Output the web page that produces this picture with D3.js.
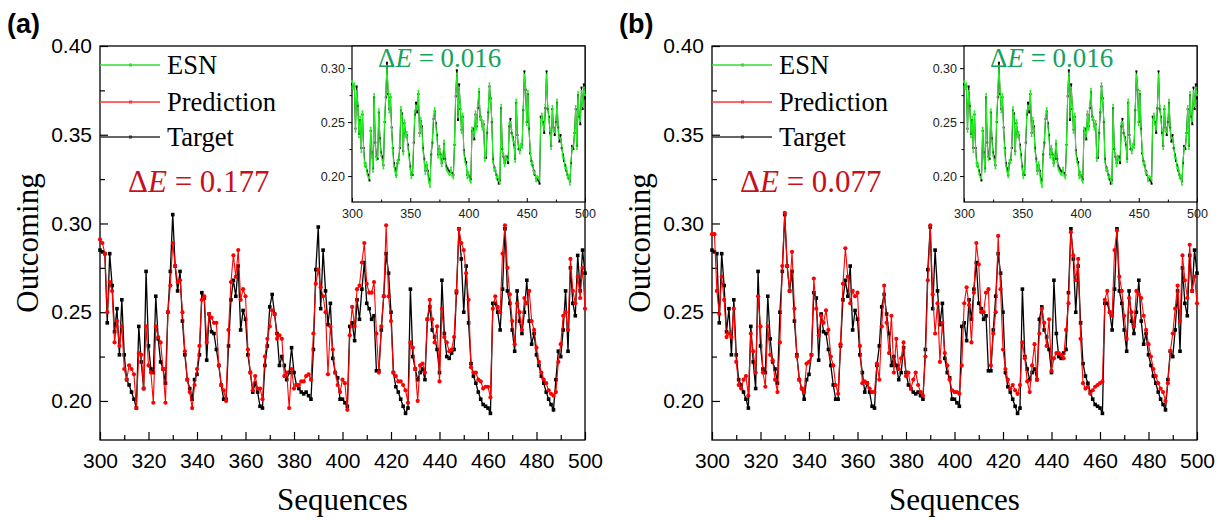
<!DOCTYPE html>
<html>
<head>
<meta charset="utf-8">
<script src="https://cdn.jsdelivr.net/npm/d3@7"></script>
<style>
  body { margin: 0; background: #fff; }
  svg { display: block; }
</style>
</head>
<body>
<div id="chart"></div>
<script>
// sequence index 300..500
const seqStart = 300;

const target = [
  .285,.284,.283,.244,.283,.265,.239,.252,.226,.257,
  .226,.212,.209,.205,.201,.196,.242,.222,.207,.273,
  .231,.218,.216,.259,.235,.222,.218,.210,.250,.273,
  .305,.276,.262,.273,.245,.226,.212,.207,.201,.212,
  .215,.226,.261,.258,.223,.249,.239,.238,.229,.220,
  .209,.201,.201,.231,.257,.268,.259,.276,.240,.251,
  .246,.226,.216,.205,.210,.205,.197,.196,.220,.231,
  .253,.260,.249,.238,.220,.225,.220,.212,.216,.230,
  .216,.209,.207,.205,.204,.205,.203,.201,.229,.274,
  .298,.252,.285,.262,.243,.255,.224,.216,.213,.201,
  .201,.199,.197,.242,.244,.234,.257,.246,.263,.278,
  .255,.252,.246,.248,.217,.217,.240,.259,.283,.272,
  .250,.216,.208,.205,.201,.197,.193,.196,.263,.225,
  .218,.212,.216,.218,.212,.246,.253,.240,.236,.229,
  .216,.268,.238,.225,.224,.227,.229,.261,.297,.280,
  .250,.276,.244,.221,.214,.210,.205,.201,.198,.197,
  .196,.193,.255,.255,.250,.240,.263,.297,.262,.255,
  .240,.228,.262,.245,.238,.250,.268,.245,.232,.238,
  .226,.220,.214,.210,.205,.201,.198,.195,.212,.228,
  .225,.240,.262,.228,.275,.255,.248,.282,.262,.285,
  .272
];

const predictionA = [
  .291,.289,.283,.250,.267,.262,.233,.245,.231,.242,
  .218,.212,.220,.218,.215,.196,.227,.226,.207,.242,
  .220,.216,.199,.242,.236,.233,.218,.199,.250,.265,
  .289,.276,.267,.268,.250,.228,.212,.205,.196,.209,
  .218,.231,.257,.259,.233,.249,.247,.244,.244,.220,
  .209,.206,.200,.240,.267,.282,.270,.285,.257,.263,
  .259,.229,.216,.206,.214,.207,.207,.201,.225,.235,
  .242,.251,.249,.235,.237,.235,.214,.216,.196,.218,
  .207,.209,.209,.211,.211,.214,.215,.212,.238,.266,
  .274,.264,.259,.250,.215,.242,.229,.216,.209,.205,
  .212,.210,.195,.237,.253,.242,.263,.265,.278,.289,
  .266,.261,.261,.267,.238,.216,.242,.259,.299,.259,
  .245,.216,.214,.211,.211,.209,.206,.199,.233,.230,
  .218,.200,.220,.221,.216,.246,.257,.246,.233,.242,
  .211,.252,.236,.233,.228,.229,.236,.262,.297,.289,
  .285,.272,.257,.219,.216,.216,.212,.211,.207,.208,
  .208,.202,.252,.259,.253,.250,.283,.299,.275,.260,
  .245,.232,.255,.250,.240,.258,.255,.262,.245,.240,
  .230,.222,.216,.212,.210,.206,.204,.203,.205,.222,
  .232,.248,.250,.240,.280,.262,.255,.270,.258,.275,
  .252
];

const predictionB = [
  .294,.294,.262,.249,.270,.257,.236,.238,.236,.252,
  .222,.209,.207,.212,.214,.203,.238,.228,.216,.259,
  .242,.216,.208,.242,.226,.223,.212,.205,.233,.276,
  .306,.276,.262,.284,.252,.225,.212,.207,.205,.221,
  .222,.226,.269,.252,.237,.248,.244,.251,.240,.225,
  .220,.209,.204,.232,.266,.286,.270,.255,.262,.259,
  .261,.231,.210,.211,.210,.207,.205,.205,.221,.212,
  .242,.265,.244,.227,.248,.216,.235,.218,.224,.233,
  .214,.216,.207,.212,.216,.209,.205,.203,.225,.268,
  .299,.260,.238,.255,.222,.244,.227,.220,.212,.206,
  .205,.205,.204,.220,.255,.264,.254,.233,.261,.289,
  .277,.250,.250,.261,.263,.220,.238,.250,.293,.263,
  .229,.218,.212,.207,.209,.206,.204,.209,.233,.224,
  .211,.205,.220,.232,.212,.238,.252,.244,.231,.246,
  .217,.224,.227,.227,.226,.224,.240,.255,.295,.282,
  .268,.280,.235,.210,.207,.208,.204,.206,.208,.209,
  .210,.211,.257,.262,.250,.248,.285,.296,.270,.262,
  .248,.235,.258,.250,.242,.262,.260,.258,.248,.240,
  .232,.225,.218,.214,.210,.207,.205,.200,.210,.228,
  .238,.252,.265,.245,.282,.268,.258,.288,.262,.270,
  .255
];

const esn = [
  .288,.281,.286,.241,.279,.268,.236,.255,.222,.260,
  .223,.209,.212,.202,.199,.198,.245,.219,.204,.276,
  .228,.215,.219,.262,.232,.219,.215,.207,.253,.276,
  .302,.279,.259,.276,.242,.223,.209,.204,.199,.215,
  .212,.229,.264,.255,.220,.252,.236,.241,.226,.217,
  .206,.198,.204,.234,.260,.265,.262,.279,.237,.254,
  .243,.223,.213,.202,.213,.202,.194,.190,.223,.234,
  .256,.263,.246,.235,.217,.228,.217,.209,.219,.233,
  .213,.206,.204,.202,.201,.208,.200,.198,.232,.277,
  .295,.255,.282,.265,.240,.258,.221,.213,.210,.198,
  .204,.196,.194,.245,.241,.237,.260,.243,.266,.281,
  .252,.255,.243,.251,.214,.220,.243,.262,.286,.269,
  .253,.213,.205,.208,.198,.200,.196,.193,.266,.222,
  .221,.209,.219,.215,.215,.249,.250,.243,.233,.232,
  .213,.271,.235,.228,.221,.230,.226,.264,.294,.283,
  .247,.279,.241,.224,.211,.213,.202,.204,.195,.200,
  .199,.196,.252,.258,.247,.243,.266,.294,.265,.252,
  .243,.225,.265,.242,.241,.247,.271,.242,.235,.235,
  .229,.217,.217,.207,.208,.198,.201,.192,.215,.225,
  .228,.237,.265,.225,.278,.252,.251,.279,.265,.282,
  .275
];

const mainYTicks = [0.20, 0.25, 0.30, 0.35, 0.40];
const mainYMinor = [0.225, 0.275, 0.325, 0.375];
const mainXTicks = [300, 320, 340, 360, 380, 400, 420, 440, 460, 480, 500];
const mainXMinor = [310, 330, 350, 370, 390, 410, 430, 450, 470, 490];
const insetYTicks = [0.20, 0.25, 0.30];
const insetYMinor = [0.225, 0.275];
const insetXTicks = [300, 350, 400, 450, 500];
const insetXMinor = [325, 375, 425, 475];
const legendNames = ["ESN", "Prediction", "Target"];

const panels = [
  {label: "(a)", left: 100, pred: predictionA, err: "0.177"},
  {label: "(b)", left: 712, pred: predictionB, err: "0.077"}
];

const W = 1226, H = 521;
const plotW = 485, plotTop = 46, plotBottom = 440;
const sans = "'Liberation Sans', Arial, sans-serif";
const serif = "'Liberation Serif', 'Times New Roman', serif";

const svg = d3.select("#chart").append("svg")
    .attr("width", W).attr("height", H)
    .style("background", "#fff");

function withIdx(arr) {
  return arr.map((v, i) => ({s: seqStart + i, v: v}));
}

function drawSeries(g, data, x, y, color, width, marker, msize) {
  const line = d3.line().x(d => x(d.s)).y(d => y(d.v));
  g.append("path").datum(data)
      .attr("fill", "none").attr("stroke", color)
      .attr("stroke-width", width).attr("d", line);
  if (marker === "square") {
    g.selectAll(null).data(data).enter().append("rect")
        .attr("x", d => x(d.s) - msize / 2).attr("y", d => y(d.v) - msize / 2)
        .attr("width", msize).attr("height", msize).attr("fill", color);
  } else {
    g.selectAll(null).data(data).enter().append("circle")
        .attr("cx", d => x(d.s)).attr("cy", d => y(d.v))
        .attr("r", msize).attr("fill", color);
  }
}

panels.forEach(p => {
  const g = svg.append("g");
  const left = p.left, right = left + plotW;

  const x = d3.scaleLinear().domain([300, 500]).range([left, right]);
  const y = d3.scaleLinear().domain([0.178, 0.40]).range([plotBottom, plotTop]);

  // frame
  g.append("rect").attr("x", left).attr("y", plotTop)
      .attr("width", plotW).attr("height", plotBottom - plotTop)
      .attr("fill", "none").attr("stroke", "#000").attr("stroke-width", 1.3);

  // axes (inward ticks)
  const xAxis = g.append("g").attr("transform", `translate(0,${plotBottom})`)
      .call(d3.axisBottom(x).tickValues(mainXTicks).tickSizeInner(-8).tickSizeOuter(0)
        .tickPadding(13).tickFormat(d3.format("d")));
  g.append("g").attr("transform", `translate(0,${plotBottom})`)
      .call(d3.axisBottom(x).tickValues(mainXMinor).tickSizeInner(-5).tickSizeOuter(0).tickFormat(""));
  const yAxis = g.append("g").attr("transform", `translate(${left},0)`)
      .call(d3.axisLeft(y).tickValues(mainYTicks).tickSizeInner(-8).tickSizeOuter(0)
        .tickPadding(8).tickFormat(d3.format(".2f")));
  g.append("g").attr("transform", `translate(${left},0)`)
      .call(d3.axisLeft(y).tickValues(mainYMinor).tickSizeInner(-5).tickSizeOuter(0).tickFormat(""));
  g.selectAll(".domain").remove();
  g.selectAll(".tick line").attr("stroke", "#000").attr("stroke-width", 1.2);
  xAxis.selectAll("text").attr("font-family", sans).attr("font-size", 21).attr("fill", "#000");
  yAxis.selectAll("text").attr("font-family", sans).attr("font-size", 21).attr("fill", "#000");

  // axis titles
  g.append("text").attr("x", (left + right) / 2).attr("y", 510)
      .attr("text-anchor", "middle").attr("font-family", serif).attr("font-size", 31)
      .text("Sequences");
  g.append("text").attr("transform", `translate(${left - 62},${(plotTop + plotBottom) / 2}) rotate(-90)`)
      .attr("text-anchor", "middle").attr("font-family", serif).attr("font-size", 31)
      .text("Outcoming");

  // panel label
  g.append("text").attr("x", left - 93).attr("y", 33)
      .attr("font-family", sans).attr("font-weight", "bold").attr("font-size", 27)
      .text(p.label);

  // main series
  drawSeries(g, withIdx(target), x, y, "#000", 1.3, "square", 3.6);
  drawSeries(g, withIdx(p.pred), x, y, "#ff0000", 1.1, "circle", 2.1);

  // legend
  const legColors = ["#33dd33", "#ff3333", "#333"];
  const legY = [65, 102, 137];
  legendNames.forEach((name, i) => {
    g.append("line").attr("x1", left).attr("x2", left + 60)
        .attr("y1", legY[i]).attr("y2", legY[i])
        .attr("stroke", legColors[i]).attr("stroke-width", 1.4);
    g.append("rect").attr("x", left + 29).attr("y", legY[i] - 1.5)
        .attr("width", 3).attr("height", 3).attr("fill", legColors[i]);
    g.append("text").attr("x", left + 67).attr("y", legY[i] + 9)
        .attr("font-family", serif).attr("font-size", 26.5).text(name);
  });

  // delta E
  const de = g.append("text").attr("x", left + 28).attr("y", 192)
      .attr("font-family", serif).attr("font-size", 31).attr("fill", "#c8101c");
  de.append("tspan").text("\u0394");
  de.append("tspan").attr("font-style", "italic").text("E");
  de.append("tspan").text(" = " + p.err);

  // inset
  const iLeft = left + 252, iBottom = 202;
  const xi = d3.scaleLinear().domain([300, 500]).range([iLeft, right]);
  const yi = d3.scaleLinear().domain([0.176, 0.3205]).range([iBottom, plotTop]);
  g.append("rect").attr("x", iLeft).attr("y", plotTop)
      .attr("width", right - iLeft).attr("height", iBottom - plotTop)
      .attr("fill", "#fff").attr("stroke", "#000").attr("stroke-width", 1.2);
  const ixA = g.append("g").attr("transform", `translate(0,${iBottom})`)
      .call(d3.axisBottom(xi).tickValues(insetXTicks).tickSizeInner(-4).tickSizeOuter(0)
        .tickPadding(7).tickFormat(d3.format("d")));
  g.append("g").attr("transform", `translate(0,${iBottom})`)
      .call(d3.axisBottom(xi).tickValues(insetXMinor).tickSizeInner(-2.5).tickSizeOuter(0).tickFormat(""));
  const iyA = g.append("g").attr("transform", `translate(${iLeft},0)`)
      .call(d3.axisLeft(yi).tickValues(insetYTicks).tickSizeInner(4).tickSizeOuter(0)
        .tickPadding(3).tickFormat(d3.format(".2f")));
  g.append("g").attr("transform", `translate(${iLeft},0)`)
      .call(d3.axisLeft(yi).tickValues(insetYMinor).tickSizeInner(2.5).tickSizeOuter(0).tickFormat(""));
  g.selectAll(".domain").remove();
  g.selectAll(".tick line").attr("stroke", "#000");
  ixA.selectAll("text").attr("font-family", sans).attr("font-size", 12.5).attr("fill", "#222");
  iyA.selectAll("text").attr("font-family", sans).attr("font-size", 12.5).attr("fill", "#222");

  drawSeries(g, withIdx(target), xi, yi, "#000", 1.0, "square", 2.0);
  drawSeries(g, withIdx(esn), xi, yi, "#22ee22", 1.1, "circle", 1.0);

  const de2 = g.append("text").attr("x", iLeft + 26).attr("y", 67)
      .attr("font-family", serif).attr("font-size", 27).attr("fill", "#17a25c");
  de2.append("tspan").text("\u0394");
  de2.append("tspan").attr("font-style", "italic").text("E");
  de2.append("tspan").text(" = 0.016");
});
</script>
</body>
</html>
